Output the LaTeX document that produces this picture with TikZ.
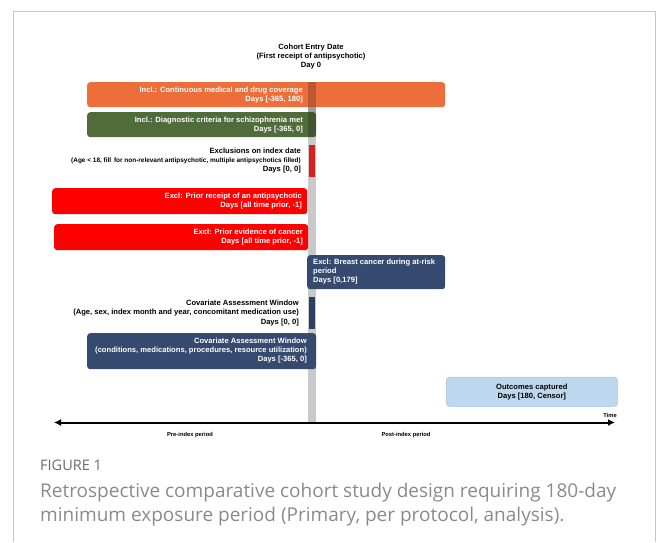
\documentclass[tikz,border=0pt]{standalone}
\usepackage{fontspec}
\setmainfont{Liberation Sans}
\newfontfamily\capfont{Open Sans}
\usetikzlibrary{arrows.meta}
\definecolor{orangeC}{HTML}{EC6E3B}
\definecolor{greenC}{HTML}{506C3B}
\definecolor{redbar}{HTML}{D62020}
\definecolor{redC}{HTML}{FF0000}
\definecolor{navyC}{HTML}{36496F}
\definecolor{navybar}{HTML}{2E3F62}
\definecolor{ltblue}{HTML}{BDD7EE}
\definecolor{ltblueB}{HTML}{9EC1E3}
\definecolor{greyC}{HTML}{C9C9C9}
\definecolor{frameC}{HTML}{C8C8C8}
\definecolor{capgrey}{HTML}{8A8A8A}
\definecolor{figgrey}{HTML}{6B6B6B}
\tikzset{
  bx/.style={rounded corners=3pt, draw=none, inner sep=0pt, anchor=north west},
  bar/.style={draw=none, inner sep=0pt, anchor=north west},
  wtxt/.style={text=white, font=\bfseries\fontsize{7.6}{9.8}\selectfont, inner sep=0pt},
  btxt/.style={text=black, font=\bfseries\fontsize{7.6}{9.3}\selectfont, inner sep=0pt},
  stxt/.style={text=black, font=\bfseries\fontsize{5.8}{7}\selectfont, inner sep=0pt},
}
\begin{document}
\begin{tikzpicture}[x=1pt,y=-1pt]
\useasboundingbox (0,0) rectangle (656,542);
% frame
\draw[frameC, line width=0.8pt] (13,542) -- (13,11) -- (655,11) -- (655,542);

% grey index bar (behind)
\node[bar, fill=greyC, minimum width=8pt, minimum height=340pt] (idx) at (308,82) {};

% header
\node[btxt, align=center, anchor=north] (hdr) at (311,43.5) {Cohort Entry Date\\(First receipt of antipsychotic)\\Day 0};

% inclusion boxes
\node[bx, fill=orangeC, minimum width=358pt, minimum height=25pt] (orange) at (87,82) {};
\node[bx, fill=greenC, minimum width=229pt, minimum height=25pt] (green) at (87,112) {};
% grey bar seen through the inclusion boxes
\fill[black, opacity=0.2] (308,82) rectangle (316,137);

\node[wtxt, align=right, anchor=east] (orangeT) at (303,95) {Incl.: Continuous medical and drug coverage\\Days [-365, 180]};
\node[wtxt, align=right, anchor=east] (greenT) at (303,125) {Incl.: Diagnostic criteria for schizophrenia met\\Days [-365, 0]};

% exclusions on index date
\node[bar, fill=redbar, minimum width=6pt, minimum height=32pt] (exbar) at (309,145) {};
\node[btxt, align=right, anchor=east] (exT) at (301,160.5) {Exclusions on index date\\{\fontsize{6.45}{7.8}\selectfont (Age < 18, fill\, for non-relevant antipsychotic, multiple antipsychotics filled)}\\Days [0, 0]};

% red exclusion boxes
\node[bx, fill=redC, minimum width=255pt, minimum height=26pt] (red1) at (52,188) {};
\node[wtxt, align=right, anchor=east] (red1T) at (302,201) {Excl: Prior receipt of an antipsychotic\\Days [all time prior, -1]};
\node[bx, fill=redC, minimum width=254pt, minimum height=26pt] (red2) at (54,224) {};
\node[wtxt, align=right, anchor=east] (red2T) at (303,237) {Excl: Prior evidence of cancer\\Days [all time prior, -1]};

% breast cancer box
\node[bx, fill=navyC, minimum width=138pt, minimum height=34pt] (breast) at (307,255) {};
\node[wtxt, align=left, anchor=west, font=\bfseries\fontsize{7.6}{9}\selectfont] (breastT) at (313,272) {Excl: Breast cancer during at-risk\\period\\Days [0,179]};

% covariate index-date bar
\node[bar, fill=navybar, minimum width=6pt, minimum height=32pt] (covbar) at (309,297) {};
\node[btxt, align=right, anchor=east] (covT) at (299,313) {Covariate Assessment Window\\(Age, sex, index month and year, concomitant medication use)\\Days [0, 0]};

% covariate window box
\node[bx, fill=navyC, minimum width=229pt, minimum height=36pt] (cov2) at (87,333) {};
\node[wtxt, align=right, anchor=east, font=\bfseries\fontsize{7.6}{9}\selectfont] (cov2T) at (307,351) {Covariate Assessment Window\\(conditions, medications, procedures, resource utilization)\\Days [-365, 0]};

% outcomes
\node[bx, fill=ltblue, draw=ltblueB, line width=0.6pt, minimum width=171pt, minimum height=29pt] (out) at (446,377) {};
\node[btxt, align=center] (outT) at (out.center) {Outcomes captured\\Days [180, Censor]};

% timeline
\coordinate (tl) at (54,422.5);
\coordinate (tr) at (615,422.5);
\draw[line width=2pt, {Latex[length=7pt,width=7pt]}-{Latex[length=7pt,width=7pt]}] (tl) -- (tr);
\node[stxt, anchor=south east] (time) at (617,417.5) {Time};
\node[stxt] (pre) at (190,434.5) {Pre-index period};
\node[stxt] (post) at (406,434.5) {Post-index period};

% caption
\node[anchor=west, inner sep=0pt, text=figgrey, font=\capfont\fontsize{14.5}{16}\selectfont] (fig) at (40,465) {FIGURE 1};
\node[anchor=north west, inner sep=0pt, align=left, text=capgrey, font=\capfont\fontsize{19}{23.5}\selectfont] (cap) at (40,483) {Retrospective comparative cohort study design requiring 180-day\\minimum exposure period (Primary, per protocol, analysis).};
\end{tikzpicture}
\end{document}
